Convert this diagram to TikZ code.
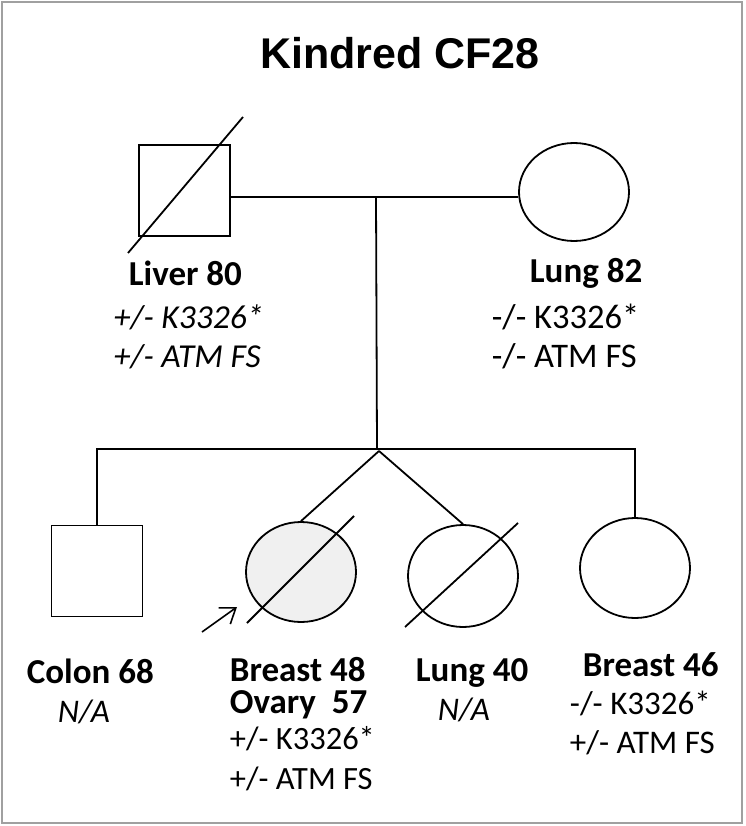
\documentclass[tikz,border=0pt]{standalone}
\usepackage{fontspec}
\setmainfont{Carlito}
\newfontfamily\titlefont{Liberation Sans}
\usetikzlibrary{shapes.geometric,arrows.meta}
\begin{document}
\begin{tikzpicture}[x=1pt,y=-1pt,
  line width=1.8pt,
  male/.style={draw,rectangle,minimum size=91pt,inner sep=0pt},
  female/.style={draw,ellipse,minimum width=110pt,minimum height=100pt,inner sep=0pt},
  dx/.style={font=\fontsize{35}{40}\selectfont\bfseries,anchor=base west,inner sep=0pt},
  geno/.style={font=\fontsize{#1}{38}\selectfont,anchor=base west,inner sep=0pt},
  genoit/.style={font=\fontsize{#1}{38}\selectfont\itshape,anchor=base west,inner sep=0pt},
  slash/.style={line width=1.8pt}]
\useasboundingbox (0,0) rectangle (745,826);
\draw[line width=2pt,draw={rgb,255:red,160;green,160;blue,160}] (2,2) rectangle (742,823);
\node[font=\titlefont\fontsize{43}{48}\selectfont\bfseries,anchor=base,inner sep=0pt] (title) at (400,69) {Kindred CF28};
% generation I
\node[male] (father) at (184.5,190.5) {};
\node[female,minimum width=110pt,minimum height=98pt] (mother) at (574,192) {};
\draw[slash] ([shift={(-56.5,62.5)}]father.center) -- ([shift={(58.5,-73.5)}]father.center);
\coordinate (mline) at (376,197);
\coordinate (sib) at (377,449);
\coordinate (twin) at (379,451);
\draw (father.east |- mline) -- (mother.west |- mline);
\draw (mline) -- (sib);
% generation II
\node[male] (colon) at (97,571) {};
\node[female,fill={rgb,255:red,240;green,240;blue,240}] (proband) at (301,572) {};
\node[female,minimum height=102pt] (lungf) at (463,576) {};
\node[female] (breastf) at (635,568) {};
\draw (colon.north) -- (colon.north |- sib) -- (breastf.north |- sib) -- (breastf.north);
\draw (twin) -- (proband.north);
\draw (twin) -- (lungf.north);
\draw[slash] ([shift={(-54,51)}]proband.center) -- ([shift={(53,-56)}]proband.center);
\draw[slash] ([shift={(-58,51)}]lungf.center) -- ([shift={(55,-53)}]lungf.center);
\coordinate (arrtail) at (202,632);
\coordinate (arrhead) at (237,607);
\draw[line width=1.6pt,-{Straight Barb[length=14pt,width=20pt,line width=1.6pt]}] (arrtail) -- (arrhead);
% labels generation I
\node[dx] (l1) at (128,285) {Liver 80};
\node[genoit=33.5] (l1a) at (113,328) {+/- K3326*};
\node[genoit=33.5] (l1b) at (113,367) {+/- ATM FS};
\node[dx] (l2) at (529,282) {Lung 82};
\node[geno=34.5] (l2a) at (491,328) {-/- K3326*};
\node[geno=34.5] (l2b) at (491,367) {-/- ATM FS};
% labels generation II
\node[dx] (l3) at (26,683) {Colon 68};
\node[genoit=33] (l3a) at (57,722) {N/A};
\node[dx] (l4) at (229,681) {Breast 48};
\node[dx] (l4b) at (229,713) {Ovary\ \ 57};
\node[geno=32.5] (l4c) at (229,749) {+/- K3326*};
\node[geno=32.5] (l4d) at (229,789) {+/- ATM FS};
\node[dx] (l5) at (415,681) {Lung 40};
\node[genoit=33] (l5a) at (437,720) {N/A};
\node[dx] (l6) at (582,676) {Breast 46};
\node[geno=33] (l6a) at (569,714) {-/- K3326*};
\node[geno=33] (l6b) at (569,753) {+/- ATM FS};
\end{tikzpicture}
\end{document}
